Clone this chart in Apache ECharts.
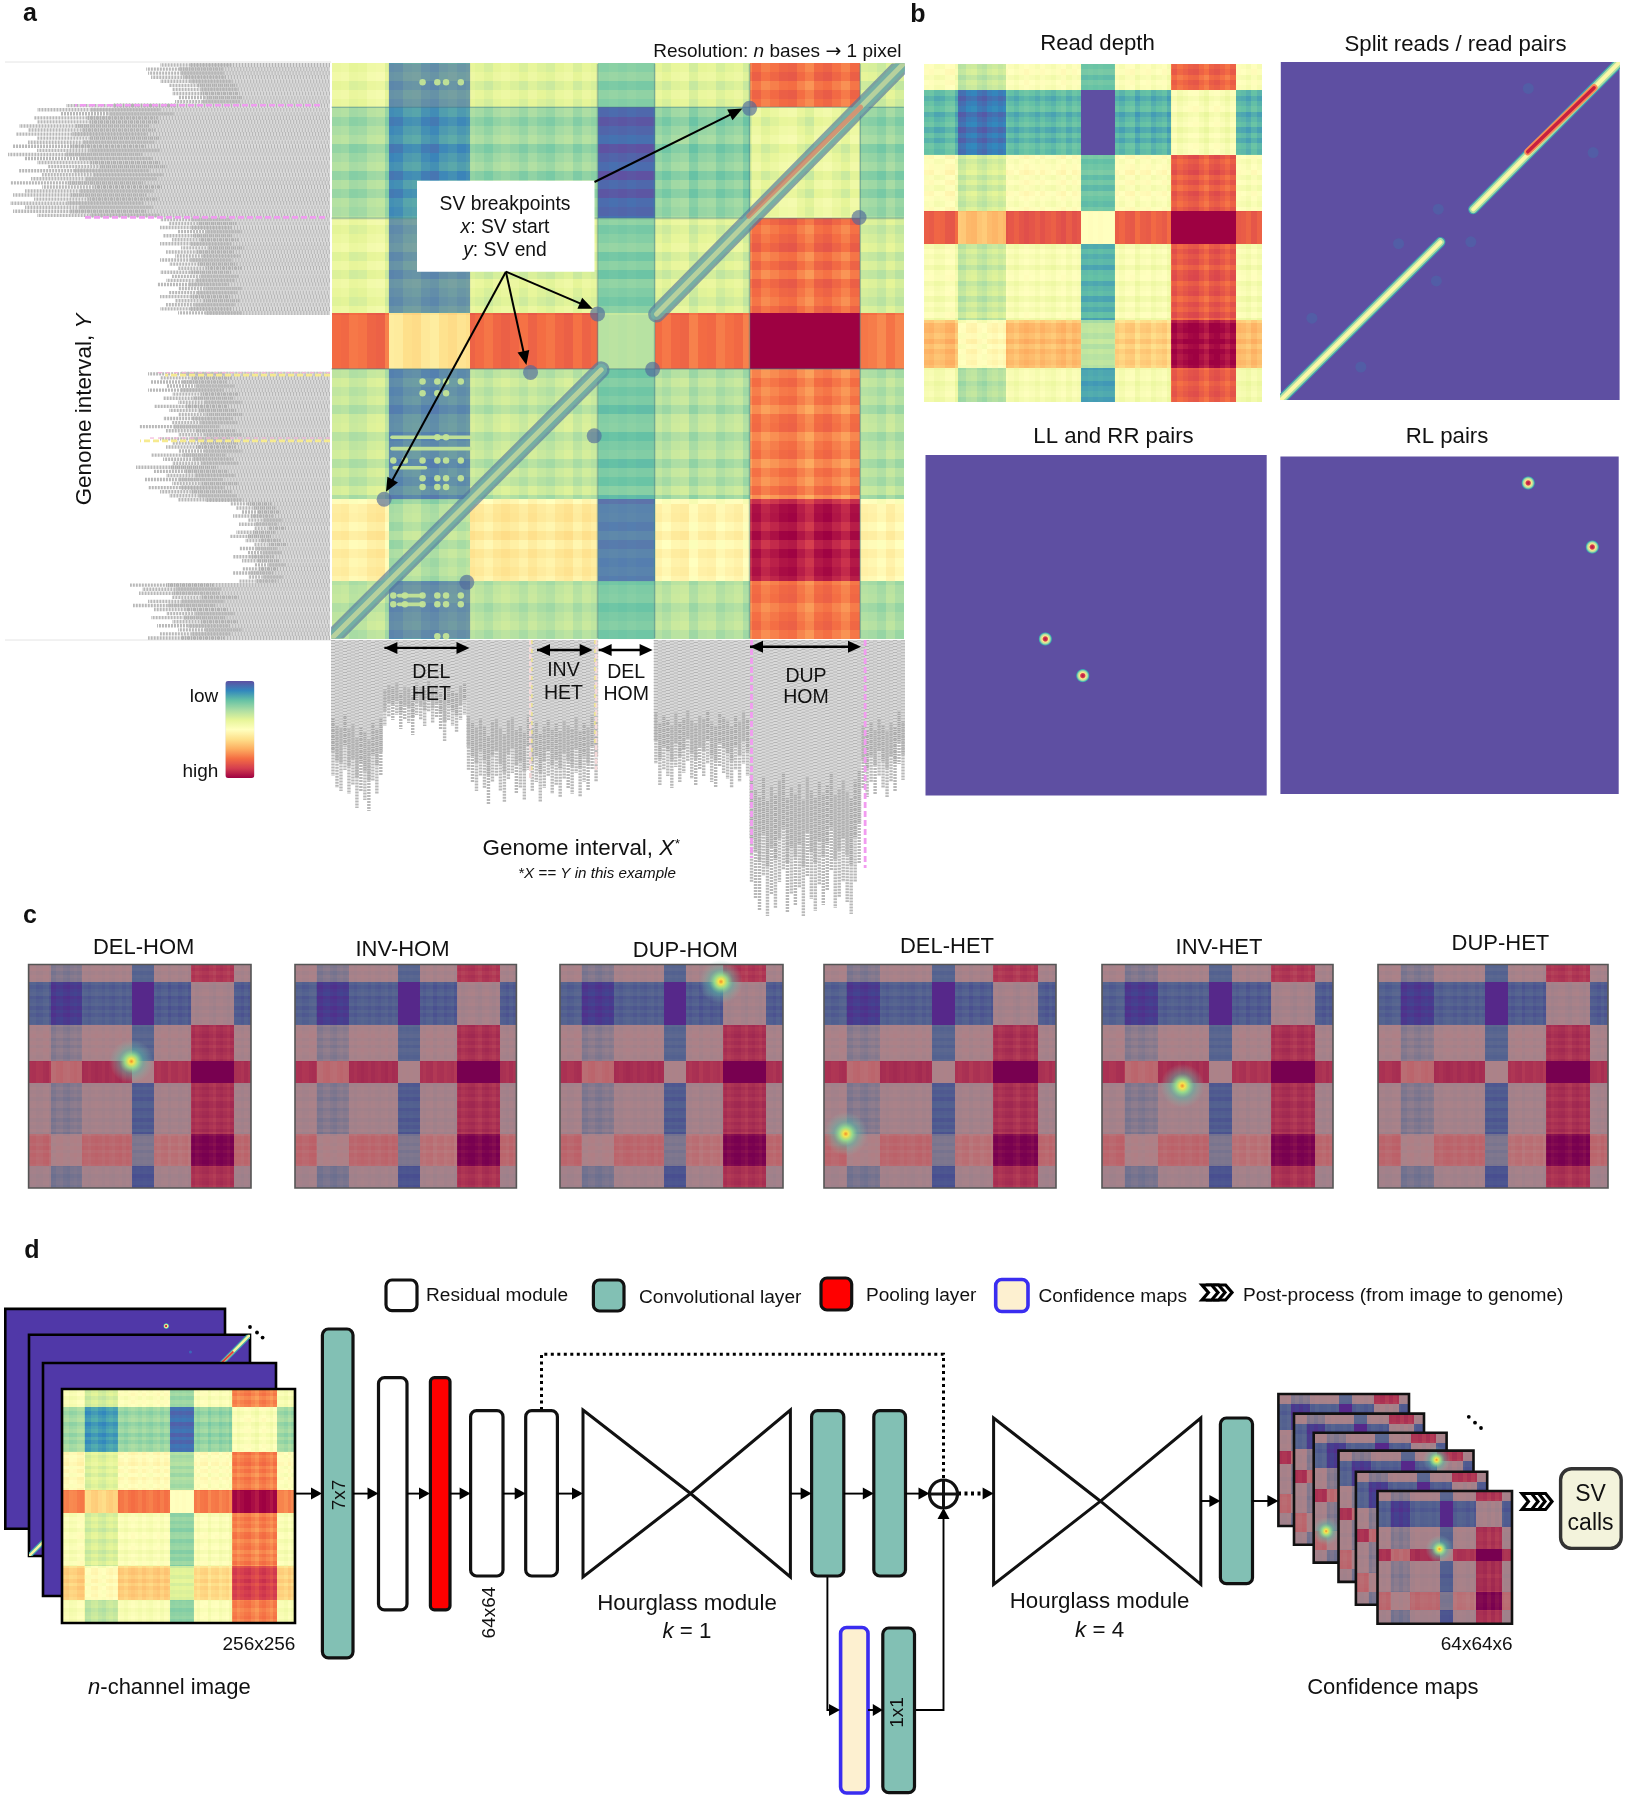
<!DOCTYPE html>
<html><head><meta charset="utf-8">
<style>html,body{margin:0;padding:0;background:#fff}#c{width:1627px;height:1800px}</style>
<script src="https://cdn.jsdelivr.net/npm/echarts@6/dist/echarts.min.js"></script>
</head><body><div id="c"></div>
<script>
// ---------- data (256-unit image space) ----------
const colBreaks = [0,25.6,62,119,144.5,187,236.5,256];
const rowBreaks = [0,19.5,69,111,136,194,230.5,256];
const colStripes = [.02,.03,-.01,.00,.04,.05,-.03,-.02,.03,.04,-.01,-.03,.02,.04,.01,.03,.01,-.02,.02,.04,.02,-.01,.03,.00,-.02,.02,.04,-.01,.03,.01,.00,.01,.00,.01,.00,.00,.02,-.01,.03,.04,-.03,.02,.03,-.02,.01,.03,-.03,.03,-.02,.01,.04,.05,.00,-.04,.03,.05,.01,-.03,.03,.02,.01,-.02,.03,-.01];
const rowStripes = [.01,.04,-.02,.03,.00,.02,-.03,.01,.04,-.04,.00,.03,-.04,.02,-.03,.03,.01,.04,-.01,.02,.05,-.02,.03,-.03,.04,.01,-.02,.03,.00,.00,.00,.00,.00,.00,-.02,.03,-.01,.02,-.04,.03,.04,-.03,.01,.03,-.04,.02,-.02,.04,-.05,.02,.03,-.01,.04,-.02,.03,.00,.02,-.01,.02,.03,-.02,.01,.03,-.01];
const mainBlocks = [
 [.40,.16,.38,.24,.38,.78,.36],
 [.28,.12,.27,.03,.25,.40,.26],
 [.39,.16,.38,.23,.37,.78,.35],
 [.79,.58,.80,.32,.79,1.05,.77],
 [.33,.14,.33,.22,.31,.76,.31],
 [.53,.30,.55,.10,.52,.94,.52],
 [.31,.15,.31,.22,.31,.77,.29]];
const depthBlocks = [
 [.47,.33,.47,.20,.47,.80,.47],
 [.18,.06,.18,-.10,.17,.46,.17],
 [.48,.35,.48,.20,.48,.82,.47],
 [.82,.66,.84,.50,.82,1.05,.83],
 [.46,.34,.46,.17,.46,.83,.46],
 [.66,.50,.66,.32,.62,.97,.66],
 [.44,.30,.45,.14,.45,.82,.44]];
const inputBlocks = [
 [.46,.36,.48,.27,.47,.75,.46],
 [.28,.13,.27,.05,.26,.47,.28],
 [.50,.38,.50,.29,.49,.76,.49],
 [.76,.62,.78,.50,.77,.98,.76],
 [.47,.37,.47,.26,.47,.76,.47],
 [.62,.50,.63,.38,.60,.88,.62],
 [.46,.33,.46,.25,.47,.76,.46]];
const breakpoints = [[187,20],[236,68.6],[119,111.5],[89,137.6],[143.6,136.2],[117.5,165.8],[23.5,194],[60.5,231]];
const lowerSegment = [[0,256],[120.6,136.4]];
const upperSegment = [[145.4,111.6],[256,0]];
const redSegment = [[186.6,68],[236.7,19.5]];
const llPoints = [[89.9,138.3],[118,165.9]];
const rlPoints = [[187.5,20],[236,68.6]];
const sitePoints = [[27.6,236.9],[32.8,236.9],[40.7,236.9],[47.3,236.9],[51.2,236.9],[57.8,236.9],[27.6,240.8],[32.8,240.8],[40.7,240.8],[47.3,240.8],[51.2,240.8],[57.8,240.8],[40.7,8.4],[47.3,8.4],[51.2,8.4],[57.8,8.4],[40.7,141.6],[47.3,141.6],[51.2,141.6],[57.8,141.6],[40.7,146.8],[47.3,146.8],[51.2,146.8],[47.3,166.4],[51.2,166.4],[27.6,176.8],[32.8,176.8],[40.7,176.8],[47.3,176.8],[51.2,176.8],[57.8,176.8],[40.7,184.7],[47.3,184.7],[51.2,184.7],[57.8,184.7],[40.7,188.6],[47.3,188.6],[51.2,188.6],[47.3,255],[51.2,255]];
const siteBars = [[[27,166.4],[62,166.4]],[[27,171.5],[62,171.5]],[[28,180],[42,180]],[[30,236.9],[40,236.9]],[[30,240.8],[40,240.8]]];
const guideLinesH = [19.5,69,136];
const guideLinesV = [119,144.5,187,236.5];
const mutedCells = [[1,0,.45],[1,2,.45],[1,4,.42],[1,6,.48],[1,1,.12],[3,5,.45],[3,1,.08]];
const leftReadLengths = [170,184,182,179,170,161,158,158,152,155,264,293,270,296,293,311,302,314,293,302,317,293,322,305,293,282,311,288,299,320,288,305,317,296,320,305,317,293,170,161,170,152,167,158,170,149,164,155,170,161,152,170,158,164,173,152,161,170,155,164,170,152,0,0,0,0,0,0,0,0,0,0,0,0,0,0,182,170,179,164,182,158,167,152,176,161,152,167,158,191,164,152,170,158,164,152,179,167,158,194,176,164,185,158,182,170,161,152,100,94,88,97,82,91,76,94,100,85,76,91,82,97,88,76,88,97,82,91,200,188,191,158,182,197,176,164,179,158,173,152,170,182];
const bottomReadLengths = [136,148,151,130,154,145,168,151,160,171,141,154,136,86,77,80,75,89,80,83,95,75,80,86,72,83,77,89,101,80,86,92,80,75,130,142,151,136,148,165,142,136,151,162,139,133,154,148,160,130,151,142,162,148,136,154,145,157,139,148,154,133,157,142,151,130,142,0,0,0,0,0,0,0,0,0,0,0,0,0,0,124,145,130,136,148,127,142,133,121,139,145,130,136,124,142,148,127,133,139,148,130,142,124,136,242,259,271,236,277,254,268,242,230,272,254,265,248,277,236,259,271,245,265,250,230,268,257,242,262,274,242,224,148,157,142,154,136,148,157,142,151,124,140];
const cTitles = ['DEL-HOM','INV-HOM','DUP-HOM','DEL-HET','INV-HET','DUP-HET'];
const cCalls = [[118.3,111],null,[184.8,19.7],[24,194],[89,139],null];

// ---------- layout ----------
const F = 'Liberation Sans';
const spectral = ['#5e4fa2','#3288bd','#66c2a5','#abdda4','#e6f598','#ffffbf','#fee08b','#fdae61','#f46d43','#d53e4f','#9e0142'];
const muted = ['#56288a','#434490','#556490','#72728f','#98808c','#ab8289','#b87a7e','#bc6068','#b33a55','#98204f','#780050'];
const grids=[],xAxes=[],yAxes=[],series=[],els=[],vmA=[],vmB=[];
const blobStops=[{offset:0,color:'#f0902c'},{offset:.12,color:'#f6e44f'},{offset:.3,color:'rgba(150,225,140,.92)'},{offset:.55,color:'rgba(90,190,170,.48)'},{offset:1,color:'rgba(140,190,175,0)'}];
const pointStops=[{offset:0,color:'#b3123f'},{offset:.3,color:'#d53e4f'},{offset:.45,color:'#ffe98a'},{offset:.7,color:'#abdda4'},{offset:.88,color:'#3aa5b0'},{offset:1,color:'#5e4fa2'}];

function panel(l,t,r,b,xMax,yMax,xInv){
  grids.push({left:l,top:t,width:r-l,height:b-t,show:false});
  const i=grids.length-1;
  xAxes.push({type:'value',gridIndex:i,min:0,max:xMax||256,inverse:!!xInv,show:false});
  yAxes.push({type:'value',gridIndex:i,min:0,max:yMax||256,inverse:true,show:false});
  return i;
}
function addSeries(s){s.z=series.length+1;s.silent=true;s.animation=false;s.progressive=0;series.push(s);return series.length-1;}
function edges(br,step){const s=new Set(br);for(let v=0;v<=256;v+=step)s.add(v);return [...s].sort((a,b)=>a-b);}
function blockOf(br,c){let k=0;while(k<br.length-2&&c>=br[k+1])k++;return k;}
function heat(g,blocks,amp,step,palette){
  const xs=edges(colBreaks,step),ys=edges(rowBreaks,step),data=[];
  for(let j=0;j<ys.length-1;j++)for(let i=0;i<xs.length-1;i++){
    const cx=(xs[i]+xs[i+1])/2,cy=(ys[j]+ys[j+1])/2;
    const base=blocks[blockOf(rowBreaks,cy)][blockOf(colBreaks,cx)];
    const v=base+amp*(colStripes[Math.floor(cx/4)]+rowStripes[Math.floor(cy/4)]);
    data.push([xs[i],xs[i+1],ys[j],ys[j+1],Math.max(0,Math.min(1,v))]);
  }
  const idx=addSeries({type:'custom',xAxisIndex:g,yAxisIndex:g,coordinateSystem:'cartesian2d',clip:false,
    encode:{x:[0,1],y:[2,3]},data,
    renderItem:(p,api)=>{const a=api.coord([api.value(0),api.value(2)]),b=api.coord([api.value(1),api.value(3)]);
      const x=Math.round(a[0]),y=Math.round(a[1]);
      return {type:'rect',shape:{x,y,width:Math.round(b[0])-x,height:Math.round(b[1])-y},style:{fill:api.visual('color')}};}});
  (palette==='muted'?vmB:vmA).push(idx);
}
function tints(g,list,rgb){
  addSeries({type:'custom',xAxisIndex:g,yAxisIndex:g,clip:false,encode:{x:[0,1],y:[2,3]},
    data:list.map(t=>[colBreaks[t[0]],colBreaks[t[0]+1],rowBreaks[t[1]],rowBreaks[t[1]+1],t[2]]),
    renderItem:(p,api)=>{const a=api.coord([api.value(0),api.value(2)]),b=api.coord([api.value(1),api.value(3)]);
      return {type:'rect',shape:{x:a[0],y:a[1],width:b[0]-a[0],height:b[1]-a[1]},style:{fill:'rgba('+rgb+','+api.value(4)+')'}};}});
}
function frame(g,fill,stroke,lw){
  addSeries({type:'custom',xAxisIndex:g,yAxisIndex:g,clip:false,encode:{x:[0,2],y:[1,3]},data:[[0,0,xAxes[g].max,yAxes[g].max]],
    renderItem:(p,api)=>{const a=api.coord([0,0]),b=api.coord([xAxes[g].max,yAxes[g].max]);
      return {type:'rect',shape:{x:a[0],y:a[1],width:b[0]-a[0],height:b[1]-a[1]},style:{fill:fill||'none',stroke:stroke||'none',lineWidth:lw||0}};}});
}
function lines(g,segs,stroke,lw,cap,dash,step){
  addSeries({type:'custom',xAxisIndex:g,yAxisIndex:g,clip:true,encode:{x:[0,2],y:[1,3]},data:segs.map(s=>[s[0][0],s[0][1],s[1][0],s[1][1]]),
    renderItem:(p,api)=>{const a=api.coord([api.value(0),api.value(1)]),b=api.coord([api.value(2),api.value(3)]);
      return {type:'line',shape:{x1:a[0],y1:a[1],x2:b[0],y2:b[1]},style:{stroke,lineWidth:lw,lineCap:cap||'round',lineDash:dash||null,lineDashOffset:(p.dataIndex*(step||0))}};}});
}
function dots(g,pts,size,color){
  addSeries({type:'scatter',xAxisIndex:g,yAxisIndex:g,symbol:'circle',symbolSize:size,data:pts,itemStyle:{color,opacity:1}});
}
const radial=s=>({type:'radial',x:.5,y:.5,r:.5,colorStops:s});

// ---------- text & shape helpers ----------
function T(x,y,text,size,o){o=o||{};
  els.push({type:'text',x,y:y+1.5,rotation:o.rot||0,z:2000,silent:true,style:{text,fontSize:size,fontFamily:F,fontWeight:o.weight||'normal',fontStyle:o.style||'normal',fill:'#111',align:o.align||'center',verticalAlign:'middle',rich:o.rich}});
}
function box(x0,y0,x1,y1,fill,stroke,lw,r){
  els.push({type:'rect',z:1500,silent:true,shape:{x:x0,y:y0,width:x1-x0,height:y1-y0,r:r||0},style:{fill,stroke,lineWidth:lw}});
}
function L(pts,lw,dash){els.push({type:'polyline',z:1400,silent:true,shape:{points:pts},style:{stroke:'#000',lineWidth:lw||1.8,fill:'none',lineDash:dash||null}});}
function head(x,y,dx,dy,len,hw){const px=-dy,py=dx;
  els.push({type:'polygon',z:1700,silent:true,shape:{points:[[x,y],[x-dx*len+px*hw,y-dy*len+py*hw],[x-dx*len-px*hw,y-dy*len-py*hw]]},style:{fill:'#000'}});}
function arrow(x0,y0,x1,y1,len,hw,lw,double){
  const d=Math.hypot(x1-x0,y1-y0),dx=(x1-x0)/d,dy=(y1-y0)/d;
  els.push({type:'line',z:1700,silent:true,shape:{x1:x0,y1:y0,x2:x1-dx*len*.8,y2:y1-dy*len*.8},style:{stroke:'#000',lineWidth:lw||1.8}});
  head(x1,y1,dx,dy,len||11,hw||6);
  if(double)head(x0,y0,-dx,-dy,len||11,hw||6);
}
function chevrons(x,y,h,w,n,gap){
  for(let i=n-1;i>=0;i--){const a=x+i*gap;
    els.push({type:'polygon',z:1600,silent:true,shape:{points:[[a,y],[a+w*.6,y],[a+w,y+h/2],[a+w*.6,y+h],[a,y+h],[a+w*.4,y+h/2]]},style:{fill:'#fff',stroke:'#000',lineWidth:3.2}});}
}
function tealBar(x0,y0,x1,y1){box(x0,y0,x1,y1,'#82c0b4','#111',3.2,6);}
function whiteBar(x0,y0,x1,y1){box(x0,y0,x1,y1,'#fff','#111',3.2,6);}
function hourglass(x0,y0,x1,y1,cx){const cy=(y0+y1)/2;
  els.push({type:'polygon',z:1500,silent:true,shape:{points:[[x0,y0],[cx,cy],[x1,y1],[x1,y0],[cx,cy],[x0,y1]]},style:{fill:'none',stroke:'#111',lineWidth:3,lineJoin:'miter'}});
}
function readLayers(g,lens,vertical,dark){
  const seg=(i,a,b)=>vertical?[[i+.5,a],[i+.5,b]]:[[a,i+.5],[b,i+.5]];
  const on=lens.map((v,i)=>[v,i]).filter(d=>d[0]>0);
  lines(g,on.map(d=>seg(d[1],0,d[0]*.82)),'#dadada',4.2,'butt');
  lines(g,on.map(d=>seg(d[1],0,d[0]*.82)),'#b4b4b4',4.2,'butt',[1,2],1.3);
  lines(g,on.map(d=>seg(d[1],d[0]*.58,d[0]*.82)),dark,3,'butt',[1,1],.5);
  lines(g,on.map(d=>seg(d[1],d[0]*.82,d[0])),'#b8b8b8',3.4,'butt',[2,1],.7);
}

// ---------- panel a: read pile-ups ----------
const leftG=panel(5,63,330,640,325,leftReadLengths.length,true);
readLayers(leftG,leftReadLengths,false,'#acacac');
const botG=panel(331,640,905,916,bottomReadLengths.length,276);
readLayers(botG,bottomReadLengths,true,'#a4a4a4');
lines(leftG,[[[10,10.4],[255,10.4]],[[5,38],[245,38]]],'#f09cf0',2.6,'butt',[6,3]);
lines(leftG,[[[0,76.8],[165,76.8]],[[0,93],[190,93]]],'#f6ea90',2.8,'butt',[6,3]);
lines(leftG,[[[0,76.2],[175,76.2]],[[0,92.3],[180,92.3]]],'#f3b6d9',1.2,'butt',[4,4]);
lines(botG,[[[50,0],[50,140]],[[66.5,0],[66.5,130]]],'#f5d9d9',2.6,'butt',[5,2]);
lines(botG,[[[50.4,0],[50.4,130]],[[66.2,0],[66.2,105]]],'#eee78a',1.4,'butt',[4,5]);
lines(botG,[[[105.5,0],[105.5,218]],[[134,0],[134,228]]],'#f29cf0',2.8,'butt',[6,3]);

// ---------- panel a: main map ----------
const mainG=panel(331.6,63.4,903.8,638.5);
heat(mainG,mainBlocks,.7,4,'spectral');
tints(mainG,mutedCells,'128,115,158');
lines(mainG,guideLinesH.map(y=>[[0,y],[256,y]]),'rgba(70,125,135,.4)',1.6,'butt');
lines(mainG,guideLinesV.map(x=>[[x,0],[x,256]]),'rgba(70,125,135,.45)',1.6,'butt');
lines(mainG,siteBars,'rgba(195,228,150,.95)',3.6,'round');
dots(mainG,sitePoints,6.5,'rgba(195,228,150,.95)');
[lowerSegment,upperSegment].forEach(s=>{
  lines(mainG,[s],'rgba(85,120,160,.66)',17,'round');
  lines(mainG,[s],'rgba(115,180,165,.76)',12,'round');
  lines(mainG,[s],'rgba(200,218,155,.8)',5,'round');
});
lines(mainG,[redSegment],'rgba(225,110,90,.6)',5,'round');
dots(mainG,breakpoints,15,'rgba(80,105,155,.65)');

// ---------- panel b ----------
const bA=panel(923.7,64,1262,402);
heat(bA,depthBlocks,.6,4,'spectral');
const bB=panel(1280.8,62,1619.6,400);
frame(bB,'#5e4fa2');
dots(bB,breakpoints,11,'rgba(55,125,175,.3)');
[lowerSegment,upperSegment].forEach(s=>{
  lines(bB,[s],'#3fa3ae',10,'round');
  lines(bB,[s],'#abdda4',7.5,'round');
  lines(bB,[s],'#fbf8a8',4,'round');
});
lines(bB,[redSegment],'#f98a55',7,'round');
lines(bB,[redSegment],'#c8203f',3.5,'round');
const bC=panel(925.5,455,1266.7,795.5);
frame(bC,'#5e4fa2');
dots(bC,llPoints,14,radial(pointStops));
const bD=panel(1280.4,456.6,1618.7,794);
frame(bD,'#5e4fa2');
dots(bD,rlPoints,14,radial(pointStops));

// ---------- panel c ----------
const cRects=[[28.6,251],[295,516.4],[560,783],[824,1056],[1102,1333],[1378,1608]];
cRects.forEach((r,i)=>{
  const g=panel(r[0],964.5,r[1],1188);
  heat(g,depthBlocks,.5,4,'muted');
  if(cCalls[i])dots(g,[cCalls[i]],44,radial(blobStops));
  frame(g,null,'#555',1.6);
});

// ---------- panel d: input stack ----------
const inputPlates=[[5.3,1308.9,225,1528.8],[29,1334.7,250,1556],[43,1363,276,1596]];
inputPlates.forEach((r,i)=>{
  const g=panel(r[0],r[1],r[2],r[3]);
  frame(g,'#5038a8','#000',2.6);
  if(i===0)dots(g,[rlPoints[0]],6,radial(pointStops));
  if(i===1){dots(g,[breakpoints[0]],3,'rgba(55,115,190,.8)');
    [lowerSegment,upperSegment].forEach(s=>{lines(g,[s],'#3fa3ae',5,'butt');lines(g,[s],'#f4f5a0',2.6,'butt');});
    lines(g,[redSegment],'#e0453f',2,'butt');}
});
const frontG=panel(62,1389,295,1623);
heat(frontG,inputBlocks,.5,4,'spectral');
frame(frontG,null,'#000',2.6);

// ---------- panel d: output stack ----------
const mapRects=[[1278.4,1394,1409,1526],[1294,1413.6,1424,1544.8],[1313.7,1432.8,1446.6,1562.6],[1338.5,1450.6,1473.5,1581.9],[1355.9,1471.7,1487.2,1604.8],[1377.5,1491,1512,1623.7]];
const mapCalls=[null,null,[24,194],[186,18],null,[118,112]];
mapRects.forEach((r,i)=>{
  const g=panel(r[0],r[1],r[2],r[3]);
  heat(g,depthBlocks,.45,8,'muted');
  if(mapCalls[i])dots(g,[mapCalls[i]],28,radial(blobStops));
  frame(g,null,'#111',2.6);
});

// ---------- annotations ----------
T(30,13,'a',25,{weight:'bold'});T(918,13.5,'b',25,{weight:'bold'});T(30,915,'c',25,{weight:'bold'});T(32,1250,'d',25,{weight:'bold'});
const ri=(s)=>({i:{fontStyle:'italic',fontSize:s,fontFamily:F,fill:'#111'},s:{fontStyle:'italic',fontSize:s*.6,fontFamily:F,fill:'#111',verticalAlign:'top'},a:{fontSize:s,fontFamily:'DejaVu Sans',fill:'#111'}});
els.push({type:'line',z:1,silent:true,shape:{x1:5,y1:62,x2:331,y2:62},style:{stroke:'#e4e4e4',lineWidth:1}});
els.push({type:'line',z:1,silent:true,shape:{x1:5,y1:640,x2:331,y2:640},style:{stroke:'#e4e4e4',lineWidth:1}});
T(901.5,50.6,'Resolution: {i|n} bases {a|\u2192} 1 pixel',19,{align:'right',rich:ri(19)});
T(85,408,'Genome interval, {i|Y}',22.4,{rot:Math.PI/2,rich:ri(22.4)});
T(581,847,'Genome interval, {i|X}{s|*}',22.4,{rich:ri(22.4)});
T(597,872,'*X == Y in this example',15.2,{style:'italic'});
box(417,180.7,594.5,271.7,'#fff','none',0);
T(505,203.6,'SV breakpoints',19.3);
T(505,226,'{i|x}: SV start',19.3,{rich:ri(19.3)});
T(505,248.8,'{i|y}: SV end',19.3,{rich:ri(19.3)});
arrow(505.9,271.7,592.7,308.7,14,6,2);
arrow(505.9,271.7,526.4,365,14,6,2);
arrow(505.9,271.7,386,491.8,14,6,2);
arrow(594.5,182,742.4,108.6,14,6,2);
T(218.3,695.4,'low',19,{align:'right'});T(218.3,770,'high',19,{align:'right'});
[['DEL','HET',431.3,670.8,693],['INV','HET',563.4,669.6,692],['DEL','HOM',626.2,671.4,693],['DUP','HOM',806,675,696.6]].forEach(a=>{T(a[2],a[3],a[0],19.5);T(a[2],a[4],a[1],19.5);});
arrow(384.4,647.9,469.5,647.9,13,6,2.4,true);
arrow(537,650,592.7,650,13,6,2.4,true);
arrow(598.6,650,652.6,650,13,6,2.4,true);
arrow(750,646.7,861,646.7,13,6,2.4,true);
T(1097.5,42.4,'Read depth',22.2);T(1455.5,43.4,'Split reads / read pairs',22.2);T(1113.5,435.4,'LL and RR pairs',22.2);T(1447,435.4,'RL pairs',22.2);
const cTitlePos=[[143.6,946],[402.5,948.3],[685.4,949.6],[947,945],[1219,946],[1500.4,942]];
cTitles.forEach((t,i)=>T(cTitlePos[i][0],cTitlePos[i][1],t,22));

// ---------- panel d diagram ----------
box(386,1280,417,1310.7,'#fff','#111',3.2,6);T(426,1294.7,'Residual module',19.1,{align:'left'});
box(593.4,1280,624,1311,'#82c0b4','#111',3.2,6);T(639,1296,'Convolutional layer',19.1,{align:'left'});
box(821,1278,851.7,1310,'#f00','#111',3.2,6);T(866,1294,'Pooling layer',19.1,{align:'left'});
box(995.7,1279.5,1028,1311.5,'#fdf0d0','#3a2df0',3.6,6);T(1038.4,1295.4,'Confidence maps',19.1,{align:'left'});
chevrons(1202,1285,15,16,3,7);T(1243,1294.7,'Post-process (from image to genome)',19.1,{align:'left'});
tealBar(322.4,1329,353,1657.8);T(339.3,1493.5,'7x7',19,{rot:Math.PI/2});
whiteBar(378.5,1377.6,407,1609.9);
box(430.4,1377.6,450,1609.9,'#f00','#111',3.2,4);
whiteBar(470.6,1410.7,503,1576);T(489.7,1611,'64x64',19,{rot:Math.PI/2});
whiteBar(525.7,1410.7,557.4,1576);
hourglass(583,1410,790.4,1577,690.5);
tealBar(811.6,1410.7,843.8,1576);tealBar(873.8,1410.7,905.5,1576);
hourglass(993.6,1418,1200.8,1584.4,1100.5);
tealBar(1220.4,1418,1252.5,1583.7);
box(840.6,1627.5,868,1793,'#fdf0d0','#3a2df0',3.6,6);
tealBar(882.8,1628,914.5,1792.7);T(897.6,1711,'1x1',19,{rot:Math.PI/2});
box(1560.6,1468.8,1621.2,1548.4,'#f3f3dc','#333',3.4,11);
T(1590.6,1493.5,'SV',23);T(1590.6,1522.6,'calls',23);
const flow=1493.6;
[[295,322],[353,378.5],[407,430],[450,470.6],[503,525.7],[557.4,583],[790.4,811.6],[843.8,873.8],[905.5,929.5]].forEach(a=>arrow(a[0],flow,a[1],flow,11,6,1.9));
head(993.6,flow,1,0,11,6);
L([[958,flow],[985,flow]],4,[3,3.5]);
arrow(1200.8,1501,1220.4,1501,11,6,1.9);arrow(1252.5,1501,1278.4,1501,11,6,1.9);
L([[827.4,1576],[827.4,1710],[838,1710]],1.9);head(840,1710,1,0,11,6);
arrow(868,1710,882.8,1710,10,6,1.9);
L([[914.5,1710],[943.5,1710],[943.5,1510]],1.9);head(943.5,1508,0,-1,11,6);
L([[541.5,1410],[541.5,1354.3],[943.5,1354.3],[943.5,1480]],3,[3,3.5]);
els.push({type:'circle',z:1600,silent:true,shape:{cx:943.5,cy:1494,r:14},style:{fill:'#fff',stroke:'#111',lineWidth:3.2}});
els.push({type:'polyline',z:1610,silent:true,shape:{points:[[929.5,1494],[957.5,1494]]},style:{stroke:'#111',lineWidth:3}});
els.push({type:'polyline',z:1610,silent:true,shape:{points:[[943.5,1480],[943.5,1508]]},style:{stroke:'#111',lineWidth:3}});
chevrons(1522,1493.5,16,16,3,7);
[[250,1327],[257,1332.5],[262.6,1337.6],[1468.8,1416.8],[1475,1422.7],[1481,1428]].forEach(p=>els.push({type:'circle',z:1600,silent:true,shape:{cx:p[0],cy:p[1],r:1.9},style:{fill:'#000'}}));
T(295.4,1643.3,'256x256',19,{align:'right'});
T(169.4,1686,'{i|n}-channel image',22,{rich:ri(22)});
T(687,1602,'Hourglass module',22.3);T(687,1630,'{i|k} = 1',22.3,{rich:ri(22.3)});
T(1099.6,1600,'Hourglass module',22.3);T(1099.6,1629,'{i|k} = 4',22.3,{rich:ri(22.3)});
T(1512.6,1643,'64x64x6',19,{align:'right'});
T(1392.8,1686,'Confidence maps',22);

// ---------- chart ----------
const chart=echarts.init(document.getElementById('c'),null,{renderer:'canvas',width:1627,height:1800});
chart.setOption({
  animation:false,backgroundColor:'#fff',
  grid:grids,xAxis:xAxes,yAxis:yAxes,
  visualMap:[
   {type:'continuous',min:0,max:1,dimension:4,seriesIndex:vmA,inRange:{color:spectral},left:225.4,top:681,padding:0,itemWidth:29,itemHeight:97,inverse:true,calculable:false,hoverLink:false,text:null,show:true},
   {type:'continuous',min:0,max:1,dimension:4,seriesIndex:vmB,inRange:{color:muted},show:false}
  ],
  series,
  graphic:{elements:els}
});
</script></body></html>
